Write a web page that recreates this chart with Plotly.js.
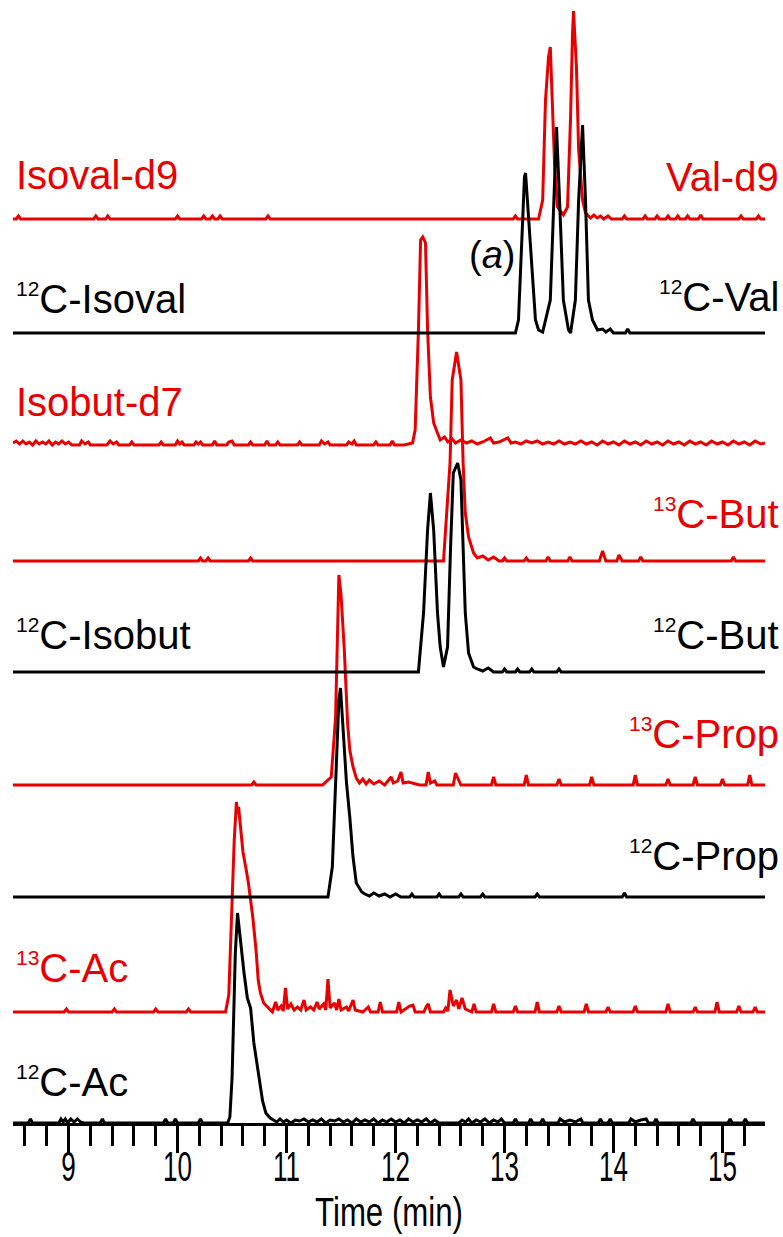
<!DOCTYPE html>
<html><head><meta charset="utf-8">
<script src="https://cdn.plot.ly/plotly-3.0.1.min.js"></script>
<style>html,body{margin:0;padding:0;background:#fff}</style>
</head><body><div id="chart" style="width:783px;height:1237px"></div>
<script>
// Each series: [time (min), intensity (relative units)]
const ac12 = [[8.49,0],[8.63,0],[8.65,4],[8.67,0],[8.91,0],[8.93,4],[8.95,1],[8.97,4],[8.99,0],[9.02,4],[9.05,1],[9.08,4],[9.11,1],[9.14,0],[9.29,0],[9.31,4],[9.33,0],[9.87,0],[9.89,4],[9.91,0],[9.96,0],[9.98,4],[10.0,0],[10.19,0],[10.21,4],[10.23,0],
[10.46,0],[10.48,6],[10.5,45],[10.53,170],[10.55,210],[10.57,190],[10.59,165],[10.61,150],[10.64,125],[10.67,115],[10.7,80],[10.74,50],[10.78,22],[10.81,10],[10.85,5],
[10.88,3],[10.91,1],[10.94,4],[10.97,1],[11.0,3],[11.04,0],[11.08,3],[11.12,2],[11.16,4],[11.2,1],[11.24,3],[11.28,1],[11.32,4],[11.36,0],[11.4,3],[11.44,2],[11.48,4],[11.52,1],[11.56,3],[11.6,0],[11.64,4],[11.68,1],[11.72,3],[11.76,1],[11.8,4],[11.84,0],[11.88,3],[11.92,1],[11.96,4],[12.0,1],[12.04,3],[12.08,0],[12.12,4],[12.16,1],[12.2,3],[12.24,1],[12.28,4],[12.32,0],[12.36,3],[12.4,0],
[12.58,0],[12.61,3],[12.64,1],[12.67,4],[12.7,0],[12.74,3],[12.78,1],[12.82,4],[12.86,0],[12.9,3],[12.94,1],[12.97,4],[13.0,0],
[13.08,0],[13.1,4],[13.12,0],[13.22,0],[13.24,4],[13.26,0],[13.33,0],[13.35,4],[13.37,0],[13.49,0],[13.51,4],[13.55,1],[13.6,3],[13.65,1],[13.7,4],[13.72,0],[13.86,0],[13.88,4],[13.9,0],[13.95,0],[13.97,4],[13.99,0],[14.14,0],[14.16,4],[14.2,1],[14.25,3],[14.3,4],[14.32,0],[14.37,0],[14.39,4],[14.41,0],[14.71,0],[14.73,4],[14.75,0],[15.05,0],[15.07,4],[15.09,0],[15.19,0],[15.21,4],[15.23,0],[15.39,0]];

const ac13 = [[8.49,0],[8.96,0],[8.98,3],[9.0,0],[9.4,0],[9.42,3],[9.44,0],[9.78,0],[9.8,3],[9.82,0],[10.08,0],[10.1,3],[10.12,0],
[10.44,0],[10.47,17],[10.5,105],[10.52,172],[10.54,210],[10.55,198],[10.56,205],[10.58,185],[10.6,160],[10.63,142],[10.65,129],[10.69,95],[10.72,62],[10.74,32],[10.76,19],[10.79,9],[10.83,5],
[10.87,0],[10.9,10],[10.92,2],[10.95,6],[10.97,1],[10.99,24],[11.01,3],[11.04,8],[11.07,2],[11.1,5],[11.13,2],[11.16,12],[11.18,2],[11.22,5],[11.25,2],[11.28,10],[11.3,3],[11.34,8],[11.36,2],[11.38,33],[11.4,4],[11.44,9],[11.46,2],[11.48,13],[11.5,2],[11.55,5],[11.57,1],[11.61,12],[11.63,2],[11.7,0],[11.75,5],[11.77,0],[11.84,0],[11.86,10],[11.88,0],[12.01,0],[12.03,10],[12.05,0],[12.13,6],[12.16,7],[12.18,0],[12.26,0],[12.28,5],[12.3,8],[12.32,0],[12.44,0],[12.46,4],[12.48,1],[12.5,22],[12.53,6],[12.56,12],[12.58,3],[12.61,14],[12.64,3],[12.7,0],[12.72,8],[12.74,0],
[12.88,0],[12.9,8],[12.92,0],[13.08,0],[13.1,6],[13.12,0],[13.28,0],[13.3,10],[13.32,0],[13.48,0],[13.5,6],[13.52,0],[13.73,0],[13.75,8],[13.77,0],[13.93,0],[13.95,5],[13.97,0],[14.18,0],[14.2,6],[14.22,0],[14.48,0],[14.5,8],[14.52,0],[14.73,0],[14.75,5],[14.77,0],[14.93,0],[14.95,10],[14.97,0],[15.13,0],[15.15,6],[15.17,0],[15.28,0],[15.3,5],[15.32,0],[15.39,0]];

const prop12 = [[8.49,0],[11.38,0],[11.42,30],[11.45,114],[11.48,197],[11.495,209],[11.52,164],[11.55,114],[11.58,80],[11.61,40],[11.64,14],[11.69,5],[11.72,3],[11.76,1],[11.8,4],[11.85,1],[11.9,3],[11.95,0],[12.0,3],[12.05,0],[12.13,0],[12.15,3],[12.17,0],[12.38,0],[12.4,3],[12.42,0],[12.58,0],[12.6,3],[12.62,0],[12.78,0],[12.8,3],[12.82,0],[13.28,0],[13.3,3],[13.32,0],[14.08,0],[14.1,4],[14.12,0],[15.39,0]];

const prop13 = [[8.49,0],[10.68,0],[10.7,3],[10.72,0],[11.33,0],[11.36,3],[11.41,8],[11.45,68],[11.47,150],[11.48,210],[11.5,190],[11.53,135],[11.56,62],[11.58,35],[11.61,18],[11.64,7],[11.67,2],[11.7,6],[11.73,1],[11.76,5],[11.8,1],[11.85,4],[11.9,0],[11.96,8],[11.98,2],[12.02,4],[12.05,13],[12.07,2],[12.12,3],[12.18,1],[12.22,0],[12.28,0],[12.3,13],[12.32,2],[12.36,4],[12.38,0],[12.53,0],[12.55,12],[12.58,5],[12.6,0],[12.88,0],[12.9,8],[12.92,0],[13.18,0],[13.2,10],[13.22,0],[13.48,0],[13.5,6],[13.52,0],[13.78,0],[13.8,8],[13.82,0],[14.18,0],[14.2,10],[14.22,0],[14.48,0],[14.5,6],[14.52,0],[14.73,0],[14.75,8],[14.77,0],[14.98,0],[15.0,6],[15.02,0],[15.23,0],[15.25,10],[15.27,0],[15.39,0]];

const but12 = [[8.49,0],[12.21,0],[12.257,59],[12.294,142],[12.32,179],[12.35,142],[12.385,59],[12.41,25],[12.44,5],[12.477,25],[12.505,125],[12.53,199],[12.57,209],[12.6,192],[12.62,125],[12.64,59],[12.67,19],[12.716,5],[12.75,3],[12.8,1],[12.85,4],[12.9,0],[12.98,0],[13.0,3],[13.02,0],[13.1,0],[13.12,3],[13.14,0],[13.23,0],[13.25,3],[13.27,0],[13.48,0],[13.5,3],[13.52,0],[15.39,0]];

const but13 = [[8.49,0],[10.19,0],[10.21,3],[10.23,0],[10.26,0],[10.28,3],[10.3,0],[10.65,0],[10.67,3],[10.69,0],[12.44,0],[12.47,48],[12.5,98],[12.52,181],[12.56,209],[12.6,181],[12.62,98],[12.64,48],[12.67,24],[12.716,8],[12.75,3],[12.8,5],[12.85,1],[12.9,4],[12.95,0],[12.98,0],[13.0,3],[13.02,0],[13.18,0],[13.2,3],[13.22,0],[13.38,0],[13.4,4],[13.42,0],[13.58,0],[13.6,4],[13.62,0],[13.87,0],[13.9,10],[13.93,0],[14.03,0],[14.05,6],[14.08,0],[14.23,0],[14.25,4],[14.27,0],[15.08,0],[15.1,4],[15.12,0],[15.39,0]];

const isobutD7 = [[8.49,2],[8.52,4],[8.55,1],[8.58,4],[8.61,1],[8.64,3],[8.67,0],[8.7,4],[8.73,1],[8.76,3],[8.79,1],[8.82,4],[8.85,0],[8.88,3],[8.91,1],[8.94,4],[8.97,1],[9.0,3],[9.03,0],[9.1,0],[9.12,4],[9.15,1],[9.18,3],[9.2,0],[9.35,0],[9.38,4],[9.41,1],[9.44,3],[9.46,0],[9.56,0],[9.58,3],[9.6,0],[9.83,0],[9.85,3],[9.87,0],[9.98,0],[10.0,4],[10.02,1],[10.04,3],[10.06,0],[10.15,0],[10.17,3],[10.19,1],[10.21,3],[10.23,0],[10.32,0],[10.34,4],[10.36,0],[10.45,0],[10.47,3],[10.5,4],[10.52,0],[10.65,0],[10.67,3],[10.69,0],[10.8,0],[10.82,4],[10.84,0],[10.9,0],[10.92,3],[10.94,0],[11.1,0],[11.12,3],[11.14,0],[11.3,0],[11.32,4],[11.35,1],[11.38,3],[11.4,0],[11.55,0],[11.57,3],[11.6,1],[11.62,4],[11.64,0],[11.8,0],[11.82,3],[11.84,0],[11.95,0],[11.97,4],[11.99,0],[12.08,0],
[12.156,2],[12.18,15],[12.21,115],[12.23,205],[12.25,208],[12.275,202],[12.294,115],[12.32,48],[12.35,22],[12.385,12],[12.41,5],[12.45,8],[12.48,3],[12.52,6],[12.55,2],[12.6,5],[12.65,2],[12.7,4],[12.75,1],[12.8,3],[12.87,7],[12.9,2],[12.95,3],[13.03,7],[13.06,2],[13.1,3],[13.15,1],[13.2,4],[13.25,2],[13.3,4],[13.35,1],[13.4,3],[13.45,1],[13.5,4],[13.55,1],[13.6,3],[13.65,1],[13.7,4],[13.75,1],[13.8,3],[13.85,0],[13.9,4],[13.95,1],[14.0,3],[14.05,0],[14.1,4],[14.15,1],[14.2,3],[14.25,0],[14.3,4],[14.35,1],[14.4,3],[14.45,0],[14.5,4],[14.55,1],[14.6,3],[14.65,0],[14.7,4],[14.75,1],[14.8,3],[14.85,0],[14.9,4],[14.95,1],[15.0,3],[15.05,0],[15.1,4],[15.15,1],[15.2,3],[15.25,0],[15.3,4],[15.35,1],[15.39,2]];

const val12 = [[8.49,0],[13.1,0],[13.128,13],[13.165,100],[13.183,156],[13.193,160],[13.22,116],[13.257,50],[13.284,13],[13.312,3],[13.35,1],[13.42,33],[13.45,133],[13.477,206],[13.505,133],[13.54,33],[13.587,3],[13.606,0],[13.65,33],[13.68,133],[13.716,208],[13.743,133],[13.77,33],[13.807,13],[13.853,3],[13.9,4],[13.93,1],[13.97,4],[14.0,0],[14.11,0],[14.13,4],[14.15,0],[15.39,0]];

const valD9 = [[8.49,0],[8.52,0],[8.54,3],[8.56,0],[9.23,0],[9.25,3],[9.27,0],[9.34,0],[9.36,3],[9.38,0],[9.98,0],[10.0,3],[10.02,0],[10.22,0],[10.24,3],[10.26,0],[10.3,0],[10.32,3],[10.34,0],[10.37,0],[10.39,3],[10.41,0],[10.81,0],[10.83,3],[10.85,0],[13.08,0],[13.1,3],[13.12,0],[13.312,0],[13.35,19],[13.376,119],[13.404,162],[13.42,172],[13.44,119],[13.46,52],[13.486,12],[13.54,4],[13.578,12],[13.606,102],[13.624,186],[13.633,208],[13.66,152],[13.68,69],[13.716,19],[13.743,6],[13.79,1],[13.82,4],[13.85,1],[13.88,3],[13.91,0],[13.95,3],[13.98,0],[14.08,0],[14.1,3],[14.12,0],[14.27,0],[14.29,3],[14.31,0],[14.38,0],[14.4,3],[14.42,0],[14.48,0],[14.5,3],[14.52,0],[14.57,0],[14.59,3],[14.61,0],[14.66,0],[14.68,3],[14.7,0],[14.78,0],[14.8,4],[14.82,0],[15.15,0],[15.17,3],[15.19,0],[15.31,0],[15.33,3],[15.35,0],[15.39,0]];

// labels
const leftLabels  = ['Isoval-d9', '<sup><span style="font-size:21px">12</span></sup>C-Isoval', 'Isobut-d7', '<sup><span style="font-size:21px">12</span></sup>C-Isobut', '<sup><span style="font-size:21px">13</span></sup>C-Ac', '<sup><span style="font-size:21px">12</span></sup>C-Ac'];
const rightLabels = ['Val-d9', '<sup><span style="font-size:21px">12</span></sup>C-Val', '<sup><span style="font-size:21px">13</span></sup>C-But', '<sup><span style="font-size:21px">12</span></sup>C-But', '<sup><span style="font-size:21px">13</span></sup>C-Prop', '<sup><span style="font-size:21px">12</span></sup>C-Prop'];
const xTitle = 'Time (min)';

// ---- styling / placement ----
const RED = 'rgb(232,0,0)', BLACK = '#000';
const series = [
  {d: valD9,    off: 904, c: RED},
  {d: isobutD7, off: 678, c: RED},
  {d: but13,    off: 562, c: RED},
  {d: prop13,   off: 338, c: RED},
  {d: ac13,     off: 111, c: RED},
  {d: val12,    off: 790, c: BLACK},
  {d: but12,    off: 451, c: BLACK},
  {d: prop12,   off: 226, c: BLACK},
  {d: ac12,     off: 0,   c: BLACK}
];
const traces = series.map(s => ({
  type: 'scatter', mode: 'lines',
  x: s.d.map(p => p[0]), y: s.d.map(p => p[1] + s.off),
  line: {color: s.c, width: 3}, hoverinfo: 'skip', showlegend: false
}));

const H = 1123; // plot height in px
const leftY  = [175, 299, 402, 635, 968, 1082];
const leftC  = [RED, BLACK, RED, BLACK, RED, BLACK];
const rightY = [177, 297, 514, 635, 734, 856];
const rightC = [RED, BLACK, RED, BLACK, RED, BLACK];
const LF = {family: 'Liberation Sans, Arial, sans-serif', size: 40};
const ann = [];
leftLabels.forEach((t, i) => ann.push({text: t, xref: 'paper', yref: 'y', x: (14 - 13) / 752, y: H - leftY[i], xanchor: 'left', yanchor: 'middle', showarrow: false, font: Object.assign({}, LF, {color: leftC[i]})}));
rightLabels.forEach((t, i) => ann.push({text: t, xref: 'paper', yref: 'y', x: (781 - 13) / 752, y: H - rightY[i], xanchor: 'right', yanchor: 'middle', showarrow: false, font: Object.assign({}, LF, {color: rightC[i]})}));
ann.push({text: '(<i>a</i>)', xref: 'paper', yref: 'y', x: (492 - 13) / 752, y: H - 255, xanchor: 'center', yanchor: 'middle', showarrow: false, font: Object.assign({}, LF, {color: BLACK, size: 38})});

const NF = 'Liberation Sans, Arial, sans-serif';
const layout = {
  width: 783, height: 1237,
  margin: {l: 13, r: 18, t: 0, b: 114, pad: 0},
  paper_bgcolor: '#fff', plot_bgcolor: '#fff',
  showlegend: false,
  xaxis: {
    range: [8.49, 15.39], showline: true, linewidth: 3, linecolor: '#000',
    ticks: 'outside', ticklen: 27, tickwidth: 3, tickcolor: '#000', dtick: 1, tick0: 0,
    tickfont: {family: NF, size: 42, color: '#000'}, ticklabelstandoff: -22,
    minor: {dtick: 0.2, ticks: 'outside', ticklen: 20, tickwidth: 3, tickcolor: '#000', showgrid: false},
    showgrid: false, zeroline: false,
    title: {text: xTitle, font: {family: NF, size: 40, color: '#000'}, standoff: 8}
  },
  yaxis: {range: [0, H], visible: false, showgrid: false, zeroline: false},
  annotations: ann
};
// condensed look of the axis text (horizontal squeeze of the drawn text)
function condense(gd) {
  gd.querySelectorAll('.xtick text').forEach(t => {
    const tr = t.getAttribute('transform') || '';
    const x = parseFloat(t.getAttribute('x')) || 0;
    t.setAttribute('transform', tr + ' translate(' + x + ',0) scale(0.62,1) translate(' + (-x) + ',0)');
  });
  gd.querySelectorAll('.g-xtitle text').forEach(t => {
    const tr = t.getAttribute('transform') || '';
    const x = parseFloat(t.getAttribute('x')) || 0;
    t.setAttribute('transform', tr + ' translate(' + x + ',0) scale(0.78,1) translate(' + (-x) + ',0)');
  });
}
Plotly.newPlot('chart', traces, layout, {staticPlot: true}).then(condense);
</script></body></html>
